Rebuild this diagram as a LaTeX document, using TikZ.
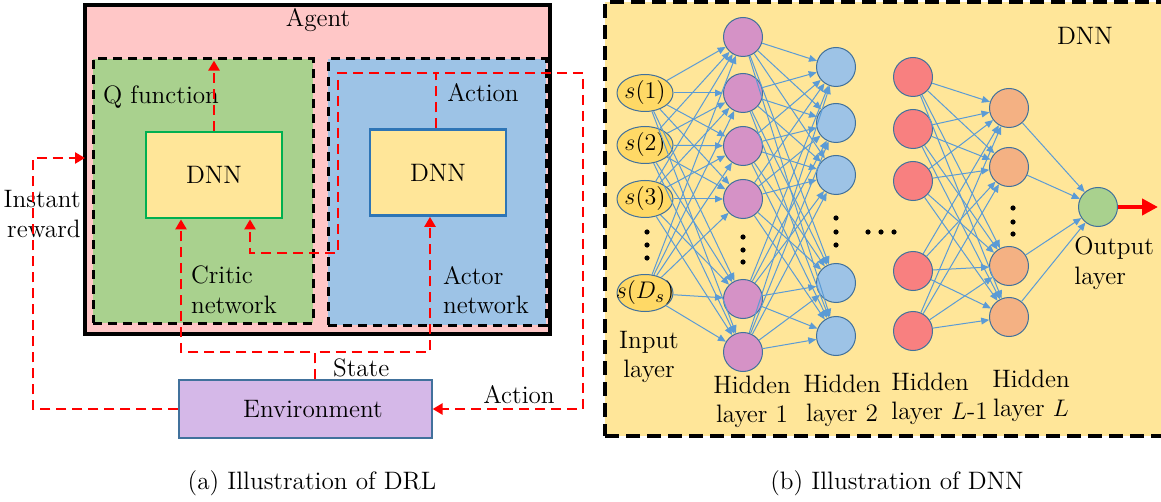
\documentclass[tikz,border=0pt]{standalone}
\usetikzlibrary{arrows.meta,shapes.geometric,calc}
\definecolor{agentpink}{RGB}{255,199,199}
\definecolor{qgreen}{RGB}{169,209,142}
\definecolor{ablue}{RGB}{157,195,230}
\definecolor{dnnyellow}{RGB}{255,230,153}
\definecolor{inyellow}{RGB}{255,217,102}
\definecolor{hpurple}{RGB}{213,146,198}
\definecolor{hred}{RGB}{248,128,128}
\definecolor{horange}{RGB}{244,177,131}
\definecolor{envpurple}{RGB}{213,184,232}
\definecolor{edgeblue}{RGB}{65,113,156}
\definecolor{arrowblue}{RGB}{91,155,213}
\definecolor{dgreen}{RGB}{0,176,80}
\definecolor{dblue}{RGB}{46,117,182}
\begin{document}
\begin{tikzpicture}[x=0.5pt,y=-0.5pt,
  font=\fontsize{12.6}{14.8}\selectfont,
  reddash/.style={red, line width=1.3pt, dash pattern=on 5pt off 3pt},
  redarrow/.style={reddash, -{Triangle[length=5pt,width=5.5pt]}},
  blackdash/.style={draw=black, line width=1.5pt, dash pattern=on 4.5pt off 3pt},
  bigbox/.style={anchor=north west, inner sep=0pt, outer sep=0pt},
  dnnbox/.style={fill=dnnyellow, line width=1.4pt, minimum width=68pt, minimum height=43pt, inner sep=0pt},
  neuron/.style={circle, draw=edgeblue, line width=0.5pt, minimum size=19.5pt, inner sep=0pt},
  inputnode/.style={ellipse, draw=edgeblue, line width=0.5pt, fill=inyellow, minimum width=28pt, minimum height=18.5pt, inner sep=0pt},
  conn/.style={arrowblue, line width=0.5pt, -{Triangle[length=4pt,width=3.4pt]}},
  dotfill/.style={fill=black}
]
\useasboundingbox (0,0) rectangle (1161,502);

% ---------------- (a) DRL ----------------
\node[bigbox, draw=black, line width=1.8pt, fill=agentpink, minimum width=232.5pt, minimum height=164.5pt] (agent) at (85,5) {};
\node (agenttxt) at (318,20) {Agent};
\node[bigbox, blackdash, fill=qgreen, minimum width=110pt, minimum height=132pt] (critic) at (93,59) {};
\node[bigbox, blackdash, fill=ablue, minimum width=109pt, minimum height=133pt] (actor) at (328,59) {};
\node[anchor=west] (qtxt) at (96,97) {Q function};
\node (acttxt) at (483,93) {Action};
\node[dnnbox, draw=dgreen] (dnnQ) at (214,175) {DNN};
\node[dnnbox, draw=dblue] (dnnA) at (438,172.5) {DNN};
\node[anchor=west, align=left] (crittxt) at (184,290) {Critic\\network};
\node[anchor=west, align=left] (acttxt2) at (436,290) {Actor\\network};
\node[draw=edgeblue, line width=0.6pt, fill=envpurple, minimum width=126.5pt, minimum height=29pt, inner sep=0pt] (env) at (305.5,409) {\hspace{7.5pt}Environment};
\node[anchor=west] (statetxt) at (326,368) {State};
\node (actiontxt) at (519,395) {Action};
\node[anchor=east, align=right, inner sep=1pt] (rewtxt) at (83,214) {Instant\\reward};

% red connectors
\draw[redarrow] (dnnQ.north) -- ++(0,-70);
\draw[redarrow] ([xshift=-1pt]dnnA.north) |- (338,73) |- (250,253) -- ([xshift=18pt]dnnQ.south);
\draw[redarrow] ([xshift=-1pt]dnnA.north) |- (583,73) |- (env.east);
\draw[redarrow] ([xshift=4.75pt]env.north) |- (181,352) -- ([xshift=-16.5pt]dnnQ.south);
\draw[redarrow] ([xshift=4.75pt]env.north) |- (430,352) -- ([xshift=-4pt]dnnA.south);
\draw[redarrow] (env.west) -| (33,158) -- (agent.west |- 0,158);

\node (capa) at (312,483) {(a) Illustration of DRL};

% ---------------- (b) DNN ----------------
\node[bigbox, draw=black, line width=1.6pt, dash pattern=on 7pt off 3.5pt, fill=dnnyellow, minimum width=290pt, minimum height=217pt] (dnnbig) at (605,2) {};
\node (dnntxt) at (1085,36) {DNN};

\foreach \y/\t [count=\i] in {93/{$s(1)$},145/{$s(2)$},199/{$s(3)$},293/{$s(D_s)$}}
  \node[inputnode, label={center:\t}] (in\i) at (645,\y) {};
\foreach \y [count=\i] in {37,93,146,199,299,352}
  \node[neuron, fill=hpurple] (p\i) at (743,\y) {};
\foreach \y [count=\i] in {67,123,175,283,336}
  \node[neuron, fill=ablue] (b\i) at (836,\y) {};
\foreach \y [count=\i] in {77,129,181,271,331}
  \node[neuron, fill=hred] (r\i) at (913,\y) {};
\foreach \y [count=\i] in {108,167,266,317}
  \node[neuron, fill=horange] (o\i) at (1009,\y) {};
\node[neuron, fill=qgreen] (out) at (1098,207) {};

\foreach \i in {1,...,4}
  \foreach \j in {1,...,6}
    \draw[conn] (in\i) -- (p\j);
\foreach \i in {1,...,6}
  \foreach \j in {1,...,5}
    \draw[conn] (p\i) -- (b\j);
\foreach \i in {1,...,5}
  \foreach \j in {1,...,4}
    \draw[conn] (r\i) -- (o\j);
\foreach \i in {1,...,4}
  \draw[conn] (o\i) -- (out);

\coordinate (outend) at (1158,207);
\draw[red, line width=2pt, -{Triangle[length=8pt,width=8pt]}] (out.east) -- (outend);

% dots
\foreach \x/\y in {647/232,647/245,647/258, 743/237,743/250,743/262, 836/218,836/232,836/245,
                   868/232,881/232,894/232, 1013/208,1013/222,1013/234}
  \fill[dotfill] (\x,\y) circle (1.3pt);

\node[align=center] (lin) at (649,357) {Input\\layer};
\node[align=center] (lh1) at (752,402) {Hidden\\layer 1};
\node[align=center] (lh2) at (842,401) {Hidden\\layer 2};
\node[anchor=west, align=left, inner sep=0pt] (lh3) at (891,399) {Hidden\\layer $L$-1};
\node[align=center] (lh4) at (1031,396) {Hidden\\layer $L$};
\node[anchor=west, align=left, inner sep=0pt] (lout) at (1074,263) {Output\\layer};

\node (capb) at (897,483) {(b) Illustration of DNN};
\end{tikzpicture}
\end{document}
